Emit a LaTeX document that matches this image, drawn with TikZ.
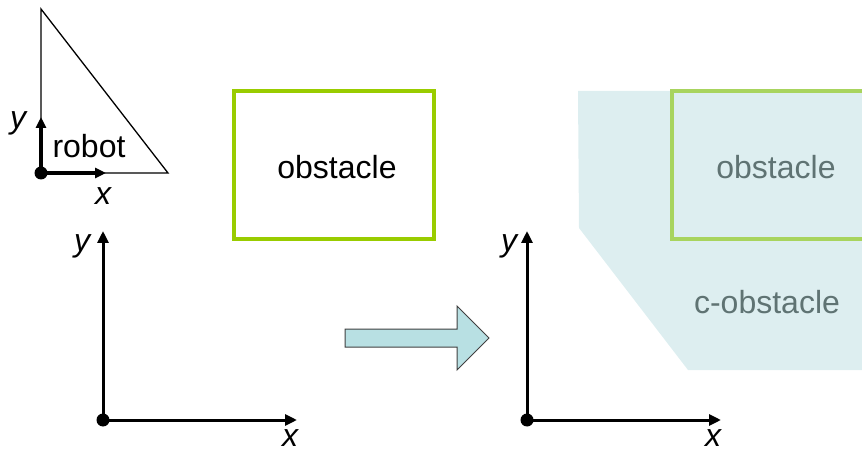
\documentclass[tikz,border=0pt]{standalone}
\usepackage{fontspec}
\setmainfont{Liberation Sans}
\usetikzlibrary{arrows.meta}
\definecolor{obsgreen}{HTML}{99CC00}
\definecolor{obsgreenpale}{HTML}{A8D45E}
\definecolor{cobsfill}{HTML}{DDEEF0}
\definecolor{arrowfill}{HTML}{B8E0E3}
\definecolor{arrowline}{HTML}{404040}
\definecolor{graytext}{HTML}{5F7373}
\tikzset{
  lbl/.style={font=\fontsize{32}{38}\selectfont, inner sep=0pt, anchor=base},
  axlbl/.style={font=\fontsize{32}{38}\selectfont\itshape, inner sep=0pt, anchor=base},
  axis/.style={line width=3pt, -{Triangle[length=12pt,width=11pt]}},
  smallaxis/.style={line width=3.2pt, -{Triangle[length=11pt,width=10pt]}},
  origin/.style={circle, fill=black, inner sep=0pt, minimum size=13pt},
  obsbox/.style={draw=obsgreen, line width=3.5pt, minimum width=200pt, minimum height=148pt, inner sep=0pt}
}
\begin{document}
\begin{tikzpicture}[x=1pt,y=-1pt]
\useasboundingbox (0,0) rectangle (862,454);
\begin{scope}
\clip (0,0) rectangle (862,454);
% c-obstacle region
\fill[cobsfill] (578,91) -- (870,91) -- (870,370) -- (688,370) -- (579,228) -- cycle;
\draw[obsgreenpale, line width=3.5pt] (672,91) rectangle (880,239);
\end{scope}
\node[lbl, text=graytext] (obs2) at (776,179) {obstacle};
\node[lbl, text=graytext] (cobs) at (767,313) {c-obstacle};

% robot
\coordinate (rtop) at (41,9);
\coordinate (rorig) at (41,173);
\coordinate (rright) at (168,173);
\draw[line width=1.3pt, line join=miter] (rtop) -- (rorig) -- (rright) -- cycle;
\coordinate (ry) at (41,117);
\coordinate (rx) at (106,173);
\draw[smallaxis] (rorig) -- (ry);
\draw[smallaxis] (rorig) -- (rx);
\node[origin] (rdot) at (rorig) {};
\node[lbl] (robot) at (89,158) {robot};
\node[axlbl] (rylbl) at (18,129) {y};
\node[axlbl] (rxlbl) at (103,205) {x};

% obstacle
\node[obsbox] (obs) at (334,165) {};
\node[lbl] (obstxt) at (337,179) {obstacle};

% left axes
\coordinate (lo) at (103,420);
\coordinate (ly) at (103,231);
\coordinate (lx) at (297,420);
\draw[axis] (lo) -- (ly);
\draw[axis] (lo) -- (lx);
\node[origin] (ldot) at (lo) {};
\node[axlbl] (lylbl) at (82,252) {y};
\node[axlbl] (lxlbl) at (290,446) {x};

% right axes
\coordinate (ro) at (527,420);
\coordinate (rya) at (527,231);
\coordinate (rxa) at (721,420);
\draw[axis] (ro) -- (rya);
\draw[axis] (ro) -- (rxa);
\node[origin] (rdot2) at (ro) {};
\node[axlbl] (rylbl2) at (509,252) {y};
\node[axlbl] (rxlbl2) at (713,446) {x};

% block arrow
\draw[fill=arrowfill, draw=arrowline, line width=1pt, line join=miter]
  (345,329) -- (457,329) -- (457,306) -- (489,338) -- (457,370) -- (457,347) -- (345,347) -- cycle;
\end{tikzpicture}
\end{document}
